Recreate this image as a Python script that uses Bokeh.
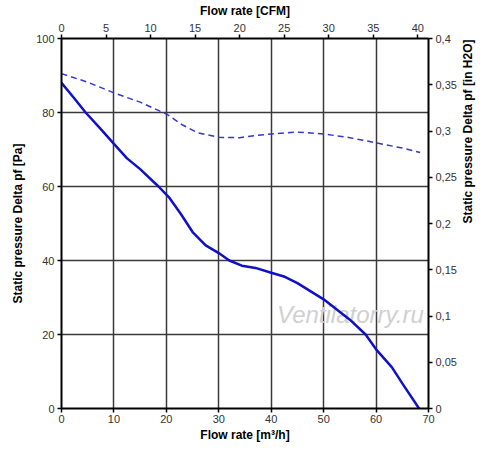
import math
from bokeh.plotting import figure
from bokeh.models import Range1d, LinearAxis, FixedTicker
from bokeh.core.properties import value
from bokeh.embed import file_html
from bokeh.resources import INLINE

# Data
flow_solid = [0, 2.5, 4.6, 7.5, 10, 12.5, 15, 18.5, 20.6, 22.8, 25, 27.5, 30, 32, 34.4, 37, 40, 42.6, 45, 50, 55, 58, 60, 63, 65, 68.2]
pa_solid = [88, 83.7, 80, 75.5, 71.5, 67.6, 64.7, 60, 56.9, 52.5, 47.7, 44.1, 42, 40, 38.6, 38, 36.7, 35.6, 33.9, 29.5, 24, 20, 16, 11.2, 6.8, 0]

flow_dash = [0, 5, 10, 15, 20, 23, 26, 30, 34, 37, 40, 45, 50, 55, 60, 65, 68.4]
pa_dash = [90.5, 88.2, 85.3, 82.8, 79.6, 76.7, 74.5, 73.3, 73.2, 73.8, 74.2, 74.7, 74.2, 73.2, 71.8, 70.4, 69.2]

x_ticks = [0, 10, 20, 30, 40, 50, 60, 70]
y_ticks = [0, 20, 40, 60, 80, 100]
cfm_ticks = [0, 5, 10, 15, 20, 25, 30, 35, 40]
inh2o_ticks = [0, 0.05, 0.1, 0.15, 0.2, 0.25, 0.3, 0.35, 0.4]
inh2o_labels = ["0", "0,05", "0,1", "0,15", "0,2", "0,25", "0,3", "0,35", "0,4"]

FONT = "Liberation Sans"

p = figure(width=484, height=444, output_backend="svg", toolbar_location=None,
           x_range=Range1d(0, 70), y_range=Range1d(0, 100),
           min_border_left=61, min_border_right=51, min_border_top=36, min_border_bottom=34)
p.outline_line_color = None
p.background_fill_color = "white"

bottom = p.below[0]
left = p.left[0]
bottom.axis_label = "Flow rate [m³/h]"
bottom.ticker = FixedTicker(ticks=x_ticks)
left.axis_label = "Static pressure Delta pf [Pa]"
left.ticker = FixedTicker(ticks=y_ticks)

p.extra_x_ranges = {"cfm": Range1d(0, 70 / 1.699)}
p.extra_y_ranges = {"inh2o": Range1d(0, 0.4)}

top = LinearAxis(x_range_name="cfm", axis_label="Flow rate [CFM]")
top.ticker = FixedTicker(ticks=cfm_ticks)
p.add_layout(top, "above")

right = LinearAxis(y_range_name="inh2o", axis_label="Static pressure Delta pf [in H2O]")
right.ticker = FixedTicker(ticks=inh2o_ticks)
right.major_label_overrides = {t: l for t, l in zip(inh2o_ticks, inh2o_labels)}
if "axis_label_orientation" in right.properties():
    right.axis_label_orientation = math.pi / 2
p.add_layout(right, "right")

for ax in [bottom, left, top, right]:
    ax.axis_line_color = "black"
    ax.axis_line_width = 2
    ax.major_tick_line_color = "black"
    ax.major_tick_line_width = 1.5
    ax.major_tick_out = 4
    ax.major_tick_in = 0
    ax.minor_tick_line_color = None
    ax.major_label_text_font = FONT
    ax.major_label_text_font_size = "11px"
    ax.major_label_text_color = "#333333"
    ax.major_label_standoff = 3
    ax.axis_label_text_font = FONT
    ax.axis_label_text_font_size = "12px"
    ax.axis_label_text_font_style = "bold"
    ax.axis_label_text_color = "black"
    ax.axis_label_standoff = 3
bottom.major_label_standoff = 2
bottom.axis_label_standoff = 2
left.axis_label_standoff = 8
right.axis_label_standoff = 8

p.xgrid.ticker = FixedTicker(ticks=x_ticks)
p.ygrid.ticker = FixedTicker(ticks=y_ticks)
p.grid.grid_line_color = "#3a3a3a"
p.grid.grid_line_width = 1.5

p.text(x=[55.1], y=[25.5], text=["Ventilatorry.ru"], text_font=value(FONT),
       text_font_size="24px", text_font_style="italic", text_color="#d0d0d0",
       text_align="center", text_baseline="middle")

p.line(flow_dash, pa_dash, line_color="#3535d0", line_width=1.5, line_dash="6 4")
p.line(flow_solid, pa_solid, line_color="#1010c8", line_width=2.5)

open("out.html", "w").write(file_html(p, INLINE))
